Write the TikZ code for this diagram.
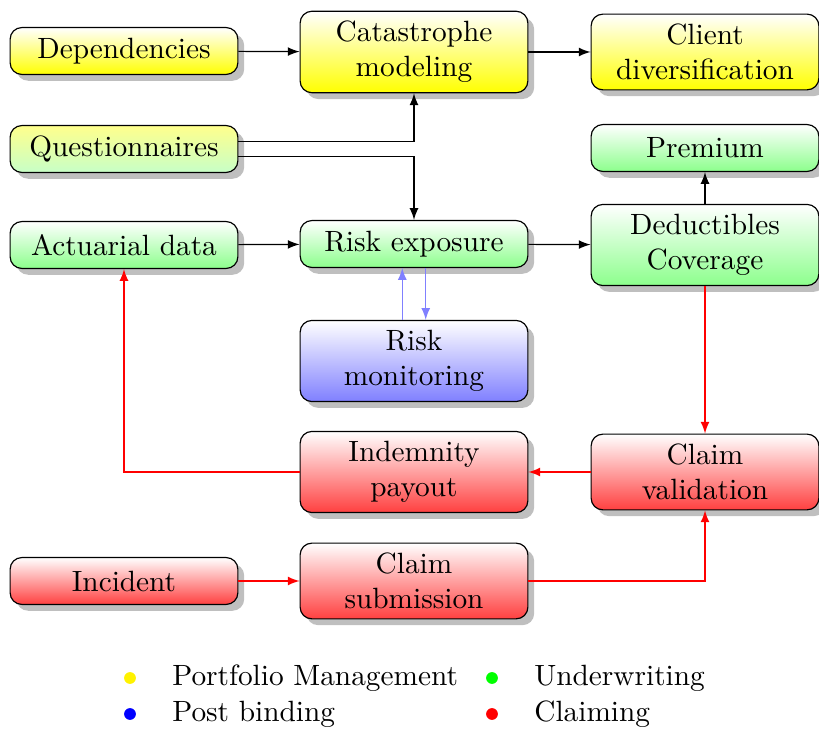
\documentclass[tikz,border=0pt]{standalone}
\usepackage{tikz}
\usetikzlibrary{arrows,shadows}

\begin{document}
\begin{tikzpicture}[x=0.341pt,y=-0.341pt]
\tikzstyle{box}=[draw=black,rounded corners,text width=71pt,align=center,drop shadow,minimum height=16pt]
\tikzstyle{pm}=[box,top color=white,bottom color=yellow]
\tikzstyle{uw}=[box,top color=white,bottom color=green!45]
\tikzstyle{pmuw}=[box,top color=yellow!45,bottom color=green!22]
\tikzstyle{pb}=[box,top color=white,bottom color=blue!50]
\tikzstyle{cl}=[box,top color=white,bottom color=red!75]
\tikzstyle{dot}=[circle,inner sep=0pt,minimum size=4pt]
\tikzstyle{flow}=[-latex]
\useasboundingbox (0,0) rectangle (819,731);
% nodes
\node[pm] (dep) at (124,51) {Dependencies};
\node[pm] (cat) at (414,52) {Catastrophe\\modeling};
\node[pm] (div) at (705,52) {Client\\diversification};
\node[pmuw] (quest) at (124,149) {Questionnaires};
\node[uw] (prem) at (705,148) {Premium};
\node[uw] (act) at (124,245) {Actuarial data};
\node[uw] (risk) at (414,244) {Risk exposure};
\node[uw] (ded) at (705,245) {Deductibles\\Coverage};
\node[pb] (mon) at (414,361) {Risk\\monitoring};
\node[cl] (pay) at (414,472) {Indemnity\\payout};
\node[cl] (val) at (705,472) {Claim\\validation};
\node[cl] (inc) at (124,581) {Incident};
\node[cl] (sub) at (414,581) {Claim\\submission};
% edges
\draw[flow] (dep) -- (cat);
\draw[flow] (cat) -- (div);
\draw[flow] ([yshift=2.5pt]quest.east) -| (cat.south);
\draw[flow] ([yshift=-2.5pt]quest.east) -| (risk.north);
\draw[flow] (act) -- (risk);
\draw[flow] (risk) -- (ded);
\draw[flow] (ded) -- (prem);
\draw[flow,blue!50] ([xshift=-4pt]mon.north) -- ([xshift=-4pt]risk.south);
\draw[flow,blue!50] ([xshift=4pt]risk.south) -- ([xshift=4pt]mon.north);
\draw[flow,red] (ded) -- (val);
\draw[flow,red] (val) -- (pay);
\draw[flow,red] (pay.west) -| (act.south);
\draw[flow,red] (inc) -- (sub);
\draw[flow,red] (sub.east) -| (val.south);
% legend
\node[dot,fill=yellow] (d1) at (130,678) {};
\node[anchor=west] (l1) at (162,678) {Portfolio Management};
\node[dot,fill=blue] (d2) at (130,714) {};
\node[anchor=west] (l2) at (162,714) {Post binding};
\node[dot,fill=green] (d3) at (492,678) {};
\node[anchor=west] (l3) at (524,678) {Underwriting};
\node[dot,fill=red] (d4) at (492,714) {};
\node[anchor=west] (l4) at (524,714) {Claiming};
\end{tikzpicture}
\end{document}
